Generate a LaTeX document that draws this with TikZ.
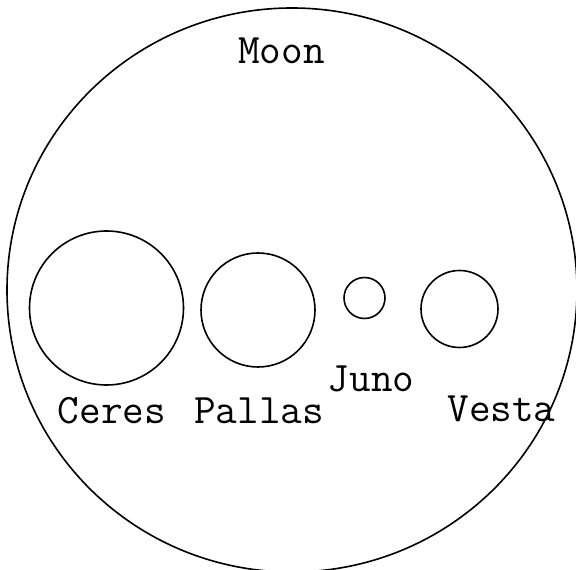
\documentclass[tikz,border=0pt]{standalone}
\usepackage{fontspec}
\usetikzlibrary{shapes.geometric}
\tikzset{
  body/.style={circle,draw,line width=1.6pt,inner sep=0pt},
  lbl/.style={font=\ttfamily\fontsize{42}{46}\selectfont,anchor=base,inner sep=0pt}
}
\begin{document}
\begin{tikzpicture}[x=1pt,y=1pt]
\useasboundingbox (0,0) rectangle (576,570);
\node[ellipse,draw,line width=1.6pt,inner sep=0pt,minimum width=570pt,minimum height=564pt] (moon) at (292,280) {};
% asteroids, to scale against the moon
\node[body,minimum size=154pt] (ceres)  at (106.5,262) {};
\node[body,minimum size=114pt] (pallas) at (258,260) {};
\node[body,minimum size=41pt]  (juno)   at (364.5,272) {};
\node[body,minimum size=77pt]  (vesta)  at (459.5,261) {};
\node[lbl] (moonlbl)   at (281.5,506) {Moon};
\node[lbl] (cereslbl)  at (112,146) {Ceres};
\node[lbl] (pallaslbl) at (259,146) {Pallas};
\node[lbl] (junolbl)   at (371,178) {Juno};
\node[lbl] (vestalbl)  at (501.5,148) {Vesta};
\end{tikzpicture}
\end{document}
